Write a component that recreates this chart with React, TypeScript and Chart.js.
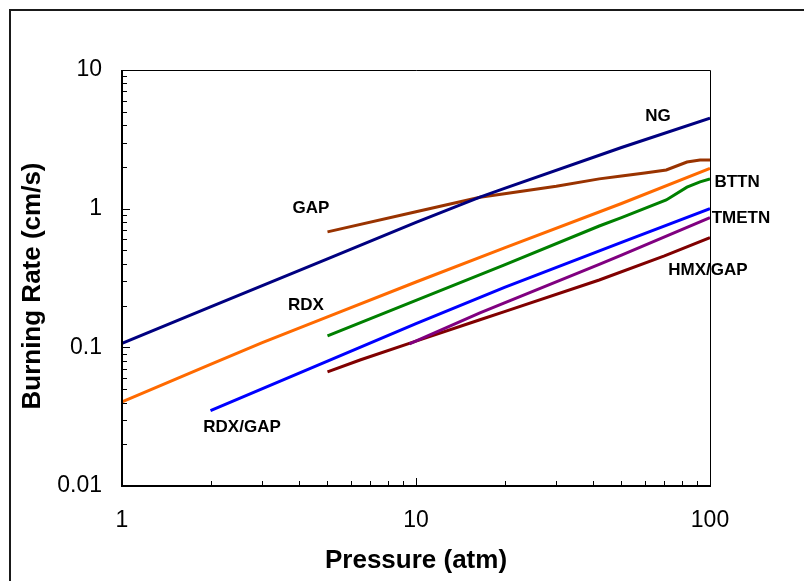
import React, { useEffect, useRef } from "react";
import { Chart, registerables } from "chart.js";

Chart.register(...registerables);

// ---- data ----
const ngP = [1, 2, 5, 10, 16.5, 20, 50, 100];
const ngR = [0.107, 0.196, 0.434, 0.795, 1.21, 1.4, 2.76, 4.5];

const gapP = [5, 10, 16.5, 20, 30, 42, 50, 60, 71, 83.5, 92.5, 100];
const gapR = [0.68, 0.95, 1.21, 1.28, 1.45, 1.64, 1.72, 1.81, 1.9, 2.17, 2.24, 2.24];

const rdxP = [1, 2, 3, 5, 10, 20, 50, 100];
const rdxR = [0.0404, 0.0753, 0.108, 0.166, 0.296, 0.522, 1.09, 1.95];

const bttnP = [5, 10, 20, 42, 50, 71, 83.5, 92.5, 100];
const bttnR = [0.121, 0.218, 0.393, 0.75, 0.863, 1.156, 1.43, 1.56, 1.64];

const rdxGapP = [2, 5, 10, 20, 50, 100];
const rdxGapR = [0.035, 0.0794, 0.148, 0.271, 0.571, 1.0];

const tmetnP = [9.5, 16.5, 20, 42, 50, 100];
const tmetnR = [0.106, 0.177, 0.209, 0.397, 0.462, 0.861];

const hmxGapP = [5, 6.45, 10, 16.5, 20, 42, 70, 100];
const hmxGapR = [0.0665, 0.081, 0.111, 0.158, 0.181, 0.306, 0.456, 0.618];

const seriesNames = ["NG", "GAP", "RDX", "BTTN", "RDX/GAP", "TMETN", "HMX/GAP"];
const seriesP = [ngP, gapP, rdxP, bttnP, rdxGapP, tmetnP, hmxGapP];
const seriesR = [ngR, gapR, rdxR, bttnR, rdxGapR, tmetnR, hmxGapR];
const seriesColors = ["#000080", "#993300", "#FF6A00", "#008000", "#0000FF", "#800080", "#800000"];

// label anchors (data units) for the in-plot series labels
const labelX = [66.5, 4.39, 4.22, 123.6, 2.56, 127.4, 98.4];
const labelY = [4.66, 1.01, 0.202, 1.56, 0.0267, 0.857, 0.361];

const xTickValues = [1, 10, 100];
const xTickLabels = ["1", "10", "100"];
const yTickValues = [0.01, 0.1, 1, 10];
const yTickLabels = ["0.01", "0.1", "1", "10"];

const xTitle = "Pressure (atm)";
const yTitle = "Burning Rate (cm/s)";

const FONT = "'Liberation Sans', Arial, Helvetica, sans-serif";

export default function App() {
  const ref = useRef<HTMLCanvasElement>(null);

  useEffect(() => {
    const canvas = ref.current;
    if (!canvas) return;

    const decorPlugin = {
      id: "decor",
      beforeDraw(chart: any) {
        const ctx = chart.ctx;
        ctx.save();
        ctx.fillStyle = "#ffffff";
        ctx.fillRect(0, 0, chart.width, chart.height);
        ctx.restore();
      },
      afterDraw(chart: any) {
        const ctx = chart.ctx;
        const { left, right, top, bottom } = chart.chartArea;
        const xs = chart.scales.x;
        const ys = chart.scales.y;
        ctx.save();

        // outer frame
        ctx.strokeStyle = "#1a1a1a";
        ctx.lineWidth = 2;
        ctx.beginPath();
        ctx.moveTo(10, chart.height + 5);
        ctx.lineTo(10, 10);
        ctx.lineTo(chart.width + 5, 10);
        ctx.stroke();

        // plot box: top & right thin
        ctx.strokeStyle = "#000000";
        ctx.lineWidth = 1;
        ctx.beginPath();
        ctx.moveTo(left, top + 0.5);
        ctx.lineTo(right + 0.5, top + 0.5);
        ctx.lineTo(right + 0.5, bottom);
        ctx.stroke();

        // axes: left & bottom thicker
        ctx.lineWidth = 2;
        ctx.beginPath();
        ctx.moveTo(left, top);
        ctx.lineTo(left, bottom);
        ctx.lineTo(right + 1, bottom);
        ctx.stroke();

        // inward tick marks
        ctx.lineWidth = 1;
        ctx.beginPath();
        for (let d = 1; d <= 100; d *= 10) {
          for (let m = 1; m <= 9; m++) {
            const v = d * m;
            if (v < 1 || v > 100) continue;
            const px = Math.round(xs.getPixelForValue(v)) + 0.5;
            const len = m === 1 ? 8 : 5;
            ctx.moveTo(px, bottom);
            ctx.lineTo(px, bottom - len);
          }
        }
        for (let d = 0.01; d <= 10.0001; d *= 10) {
          for (let m = 1; m <= 9; m++) {
            const v = d * m;
            if (v < 0.00999 || v > 10.0001) continue;
            const py = Math.round(ys.getPixelForValue(v)) + 0.5;
            const len = m === 1 ? 8 : 5;
            ctx.moveTo(left, py);
            ctx.lineTo(left + len, py);
          }
        }
        ctx.stroke();

        // axis titles
        ctx.fillStyle = "#000000";
        ctx.font = `bold 26px ${FONT}`;
        ctx.textAlign = "center";
        ctx.textBaseline = "middle";
        ctx.fillText(xTitle, (left + right) / 2, 561);
        ctx.save();
        ctx.translate(33, 286);
        ctx.rotate(-Math.PI / 2);
        ctx.fillText(yTitle, 0, 0);
        ctx.restore();

        // series labels
        ctx.font = `bold 17px ${FONT}`;
        for (let i = 0; i < seriesNames.length; i++) {
          const px = xs.getPixelForValue(labelX[i]);
          const py = ys.getPixelForValue(labelY[i]);
          ctx.fillText(seriesNames[i], px, py);
        }
        ctx.restore();
      },
    };

    const chart = new Chart(canvas, {
      type: "line",
      data: {
        datasets: seriesNames.map((name, i) => ({
          label: name,
          data: seriesP[i].map((p, j) => ({ x: p, y: seriesR[i][j] })),
          borderColor: seriesColors[i],
          backgroundColor: seriesColors[i],
          borderWidth: 3,
          pointRadius: 0,
          tension: 0,
          fill: false,
        })),
      },
      options: {
        animation: false,
        responsive: false,
        devicePixelRatio: 1,
        layout: { padding: { left: 0, top: 70, right: 94, bottom: 0 } },
        plugins: { legend: { display: false }, tooltip: { enabled: false } },
        scales: {
          x: {
            type: "logarithmic",
            min: 1,
            max: 100,
            grid: { display: false, drawTicks: false },
            border: { display: false },
            afterBuildTicks(scale: any) {
              scale.ticks = xTickValues.map((v) => ({ value: v }));
            },
            afterFit(scale: any) {
              scale.height = 95;
            },
            ticks: {
              autoSkip: false,
              maxRotation: 0,
              padding: 21,
              color: "#000000",
              font: { family: FONT, size: 23 },
              callback: (_v: any, i: number) => xTickLabels[i],
            },
          },
          y: {
            type: "logarithmic",
            min: 0.01,
            max: 10,
            grid: { display: false, drawTicks: false },
            border: { display: false },
            afterBuildTicks(scale: any) {
              scale.ticks = yTickValues.map((v) => ({ value: v }));
            },
            afterFit(scale: any) {
              scale.width = 122;
            },
            ticks: {
              autoSkip: false,
              padding: 20,
              color: "#000000",
              font: { family: FONT, size: 23 },
              callback: (_v: any, i: number) => yTickLabels[i],
            },
          },
        },
      },
      plugins: [decorPlugin],
    });

    return () => chart.destroy();
  }, []);

  return (
    <div style={{ position: "fixed", left: 0, top: 0, width: 804, height: 581, background: "#fff" }}>
      <canvas ref={ref} width={804} height={581} style={{ display: "block", width: 804, height: 581 }} />
    </div>
  );
}
